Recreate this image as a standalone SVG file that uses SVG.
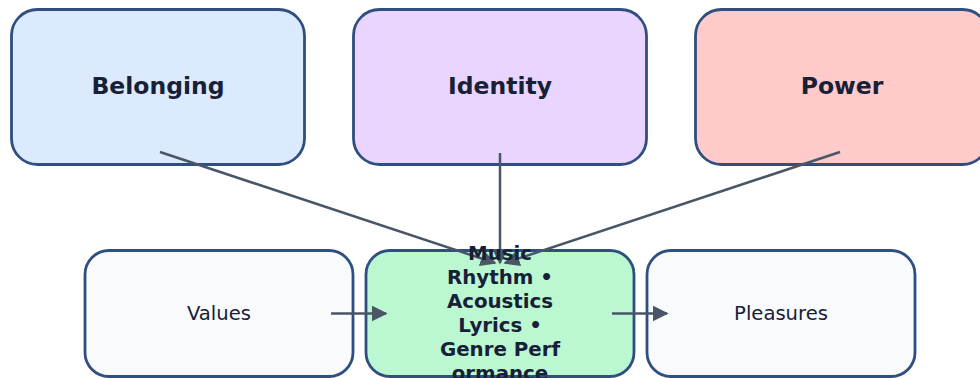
<svg xmlns="http://www.w3.org/2000/svg" width="980" height="378" viewBox="0 0 980 378">
<defs>
<style>
.box{stroke:#2f4f80;stroke-width:2.8}
.t{font-family:"DejaVu Sans",sans-serif;fill:#172036;text-anchor:middle}
.title{font-size:23.5px;font-weight:bold}
.lbl{font-size:19.6px}
.mus{font-size:19.8px;font-weight:bold}
.edge{stroke:#4a5568;stroke-width:2.5;fill:none;marker-end:url(#ah)}
</style>
<marker id="ah" viewBox="0 0 10 10" refX="9" refY="5" markerWidth="6.4" markerHeight="6.4" orient="auto" markerUnits="strokeWidth">
<path d="M0,0 L10,5 L0,10 z" fill="#4a5568"/>
</marker>
</defs>
<rect width="980" height="378" fill="#ffffff"/>
<g id="belonging">
<rect class="box" x="11.5" y="9.5" width="293" height="155" rx="26" fill="#dbeafe"/>
<text class="t title" x="158" y="94">Belonging</text>
</g>
<g id="identity">
<rect class="box" x="353.5" y="9.5" width="293" height="155" rx="26" fill="#e9d5ff"/>
<text class="t title" x="500" y="94">Identity</text>
</g>
<g id="power">
<rect class="box" x="695.5" y="9.5" width="293" height="155" rx="26" fill="#fecaca"/>
<text class="t title" x="842" y="94">Power</text>
</g>
<g id="values">
<rect class="box" x="85" y="250.5" width="268" height="126" rx="24" fill="#f8fafc"/>
<text class="t lbl" x="219" y="320">Values</text>
</g>
<g id="music">
<rect class="box" x="366" y="250.5" width="268" height="126" rx="24" fill="#bbf7d0"/>
</g>
<g id="pleasures">
<rect class="box" x="647" y="250.5" width="268" height="126" rx="24" fill="#f8fafc"/>
<text class="t lbl" x="781" y="320">Pleasures</text>
</g>
<g id="connectors">
<line class="edge" x1="160" y1="152" x2="495" y2="263"/>
<line class="edge" x1="500" y1="153" x2="500" y2="263"/>
<line class="edge" x1="840" y1="152" x2="505" y2="263"/>
<line class="edge" x1="331" y1="313.5" x2="386" y2="313.5"/>
<line class="edge" x1="612" y1="313.5" x2="667" y2="313.5"/>
</g>
<g id="music-label">
<text class="t mus" x="500" y="260">Music</text>
<text class="t mus" x="500" y="284">Rhythm •</text>
<text class="t mus" x="500" y="308">Acoustics</text>
<text class="t mus" x="500" y="332">Lyrics •</text>
<text class="t mus" x="500" y="356">Genre Perf</text>
<text class="t mus" x="500" y="380">ormance</text>
</g>
</svg>
